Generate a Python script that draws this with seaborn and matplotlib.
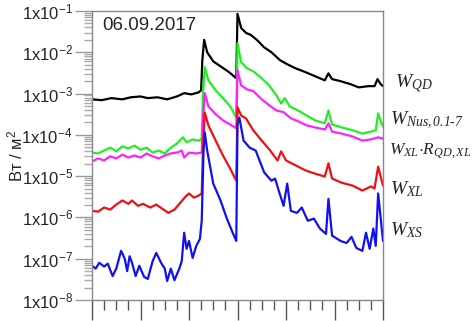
import numpy as np
import pandas as pd
import matplotlib
matplotlib.use('Agg')
import matplotlib.pyplot as plt
import seaborn as sns
from matplotlib.ticker import MultipleLocator, LogLocator, NullFormatter

# hours UT and log10 of flux (W/m^2)
qd_h = [0, 0.8, 1.6, 2.5, 3.2, 4.0, 4.6, 5.4, 6.2, 7.0, 7.6, 8.2, 8.8, 9.0, 9.1,
        9.25, 9.5, 10.0, 10.6, 11.3, 11.9, 12.0, 12.3, 12.7, 13.1, 13.6, 14.2, 14.8, 15.5, 16.1,
        16.8, 17.6, 18.4, 19.2, 19.5, 19.8, 20.5, 21.3, 22.0, 22.8, 23.3, 23.55, 23.8, 24.0]
qd_log = [-3.14, -3.16, -3.11, -3.14, -3.09, -3.07, -3.11, -3.09, -3.14, -3.07, -2.99, -3.02, -2.97, -2.92, -2.19,
          -1.70, -2.00, -2.22, -2.34, -2.48, -2.63, -1.07, -1.41, -1.53, -1.58, -1.70, -1.88, -2.00, -2.19, -2.29,
          -2.39, -2.48, -2.58, -2.68, -2.51, -2.65, -2.70, -2.77, -2.85, -2.82, -2.82, -2.65, -2.77, -2.82]

nus_h = [0, 0.5, 1.0, 1.5, 2.0, 2.5, 3.0, 3.5, 4.0, 4.5, 5.0, 5.5, 6.0, 6.5, 7.0,
         7.5, 7.8, 8.3, 8.8, 9.05, 9.15, 9.3, 9.6, 10.2, 10.8, 11.4, 11.9, 12.0, 12.3, 12.8,
         13.3, 14.0, 14.6, 15.2, 15.6, 15.9, 16.3, 17.0, 17.7, 18.4, 19.2, 19.5, 19.8, 20.6, 21.5,
         22.3, 23.0, 23.4, 23.6, 23.85, 24.0]
nus_log = [-4.43, -4.45, -4.38, -4.31, -4.40, -4.28, -4.33, -4.26, -4.36, -4.31, -4.43, -4.38, -4.45, -4.31, -4.21,
           -4.06, -4.18, -4.11, -4.14, -4.09, -3.04, -2.36, -2.68, -2.92, -3.11, -3.31, -3.58, -1.78, -2.24, -2.39,
           -2.46, -2.63, -2.80, -3.04, -3.24, -3.11, -3.31, -3.41, -3.53, -3.65, -3.72, -3.41, -3.75, -3.82, -3.89,
           -3.97, -3.92, -3.89, -3.48, -3.70, -3.80]

xlr_h = [0, 0.5, 1.0, 1.5, 2.0, 2.5, 3.0, 3.5, 4.0, 4.5, 5.0, 5.5, 6.0, 6.5, 7.0,
         7.4, 7.6, 8.0, 8.6, 9.05, 9.15, 9.3, 9.6, 10.2, 10.8, 11.4, 11.9, 12.0, 12.3, 12.8,
         13.3, 14.0, 14.6, 15.2, 15.8, 16.4, 17.0, 17.7, 18.4, 19.2, 19.5, 19.8, 20.6, 21.5, 22.3,
         23.0, 23.6, 24.0]
xlr_log = [-4.65, -4.57, -4.62, -4.52, -4.57, -4.48, -4.55, -4.50, -4.55, -4.45, -4.52, -4.57, -4.50, -4.45, -4.43,
           -4.38, -4.55, -4.43, -4.45, -4.43, -3.65, -2.99, -3.31, -3.50, -3.65, -3.75, -3.84, -2.43, -2.80, -2.90,
           -2.94, -3.14, -3.28, -3.41, -3.45, -3.60, -3.67, -3.77, -3.82, -3.87, -3.72, -3.92, -3.97, -4.04, -4.14,
           -4.11, -4.06, -4.09]

xl_h = [0, 0.5, 1.0, 1.5, 2.0, 2.5, 3.0, 3.3, 3.8, 4.2, 4.8, 5.3, 5.8, 6.3, 6.8,
        7.3, 7.7, 8.0, 8.4, 8.8, 9.05, 9.15, 9.3, 9.6, 10.2, 10.8, 11.4, 11.9, 12.0, 12.3,
        12.7, 13.3, 14.0, 14.7, 15.3, 15.6, 16.0, 16.8, 17.6, 18.4, 19.2, 19.5, 19.8, 20.6, 21.5,
        22.3, 23.0, 23.3, 23.6, 24.0]
xl_log = [-5.84, -5.86, -5.76, -5.81, -5.69, -5.59, -5.67, -5.59, -5.72, -5.67, -5.76, -5.69, -5.79, -5.89, -5.81,
          -5.64, -5.50, -5.42, -5.52, -5.47, -5.42, -4.38, -3.46, -3.77, -4.14, -4.50, -4.82, -5.11, -3.33, -3.53,
          -3.60, -3.89, -4.14, -4.38, -4.62, -4.40, -4.62, -4.74, -4.86, -4.94, -5.01, -4.69, -5.06, -5.16, -5.23,
          -5.35, -5.25, -5.30, -4.77, -5.23]

xs_h = [0, 0.3, 0.6, 1.0, 1.3, 1.7, 2.0, 2.4, 2.7, 2.9, 3.1, 3.3, 3.6, 3.9, 4.3,
        4.6, 5.0, 5.3, 5.7, 6.0, 6.2, 6.5, 6.8, 7.2, 7.4, 7.6, 7.8, 8.0, 8.3, 8.6,
        8.9, 9.05, 9.2, 9.3, 9.5, 10.0, 10.6, 11.1, 11.6, 11.9, 12.0, 12.15, 12.5, 13.0, 13.5,
        14.2, 14.8, 15.1, 15.4, 15.8, 16.1, 16.4, 16.9, 17.3, 17.8, 18.3, 18.8, 19.3, 19.5, 19.8,
        20.5, 21.0, 21.4, 21.8, 22.3, 22.6, 22.9, 23.2, 23.4, 23.6, 24.0]
xs_log = [-7.17, -7.24, -7.10, -7.19, -7.12, -7.42, -7.24, -6.81, -7.00, -7.30, -6.94, -7.10, -7.42, -7.17, -7.44,
          -7.49, -7.06, -6.86, -7.10, -7.24, -7.54, -7.24, -7.52, -7.24, -7.06, -6.37, -6.76, -6.57, -6.98, -6.69,
          -6.52, -6.08, -4.38, -3.94, -4.38, -5.18, -5.59, -6.01, -6.37, -6.57, -3.75, -3.58, -4.14, -4.31, -4.38,
          -4.91, -5.11, -5.06, -5.35, -5.72, -5.18, -5.84, -5.89, -5.76, -6.08, -6.03, -6.27, -6.40, -5.55, -6.44,
          -6.57, -6.62, -6.47, -6.74, -6.81, -6.37, -6.76, -6.27, -6.69, -5.42, -6.57]

names = ['QD', 'Nus', 'XLR', 'XL', 'XS']
colors = ['#000000', '#22ee22', '#ff22ff', '#ee1111', '#1111ee']
labels = [r'$W_{QD}$', r'$W_{\mathit{Nus,0.1}\text{-}\mathit{7}}$', r'$W_{XL}{\cdot}R_{QD,XL}$',
          r'$W_{XL}$', r'$W_{XS}$']
label_y = [0.75, 0.621, 0.514, 0.382, 0.243]
label_x = [1.041, 1.024, 1.021, 1.024, 1.024]
label_fs = [14, 14, 12.5, 14, 14]

frames = []
for n, h, lg in zip(names, [qd_h, nus_h, xlr_h, xl_h, xs_h], [qd_log, nus_log, xlr_log, xl_log, xs_log]):
    frames.append(pd.DataFrame({'hour': h, 'flux': 10.0 ** np.array(lg), 'series': n}))
df = pd.concat(frames, ignore_index=True)

sns.set_theme(style='ticks')
plt.rcParams['font.family'] = ['Liberation Sans', 'DejaVu Sans']
plt.rcParams['mathtext.fontset'] = 'custom'
plt.rcParams['mathtext.it'] = 'Liberation Serif:italic'
plt.rcParams['mathtext.rm'] = 'Liberation Serif:italic'

fig, ax = plt.subplots(figsize=(4.75, 3.21), dpi=100)
fig.subplots_adjust(left=92/475, right=383/475, top=1-11/321, bottom=1-300/321)

sns.lineplot(data=df, x='hour', y='flux', hue='series', hue_order=names, palette=colors,
             estimator=None, sort=False, lw=1.6, legend=False, ax=ax)

ax.set_yscale('log')
ax.set_xlim(0, 24)
ax.set_ylim(1e-8, 1e-1)

ax.xaxis.set_major_locator(MultipleLocator(4))
ax.xaxis.set_minor_locator(MultipleLocator(1))
ax.set_yticks([10.0 ** e for e in range(-8, 0)])
ax.set_yticklabels([r'$\mathregular{1x10^{%d}}$' % e for e in range(-8, 0)])
ax.yaxis.set_minor_locator(LogLocator(base=10, subs=np.arange(2, 10), numticks=30))
ax.yaxis.set_minor_formatter(NullFormatter())

ax.tick_params(axis='x', which='major', length=14.5, width=1, color='#555555', labelbottom=False)
ax.tick_params(axis='x', which='minor', length=7, width=1, color='#555555')
ax.tick_params(axis='y', which='major', length=12, width=1, color='#999999', labelsize=12, pad=2)
ax.tick_params(axis='y', which='minor', length=5.5, width=1, color='#aaaaaa')

for s in ax.spines.values():
    s.set_visible(True)
    s.set_color('#888888')
    s.set_linewidth(1)

ax.set_xlabel('')
ax.set_ylabel('Вт / м$\\mathregular{^2}$', fontsize=12)
ax.yaxis.set_label_coords(-0.23, 0.5)

ax.text(0.034, 0.951, '06.09.2017', transform=ax.transAxes, fontsize=13.5, va='center', ha='left')

for lab, lx, ly, fs in zip(labels, label_x, label_y, label_fs):
    ax.text(lx, ly, lab, transform=ax.transAxes, fontsize=fs, va='center', ha='left', clip_on=False)

fig.savefig('out.png', dpi=100)
